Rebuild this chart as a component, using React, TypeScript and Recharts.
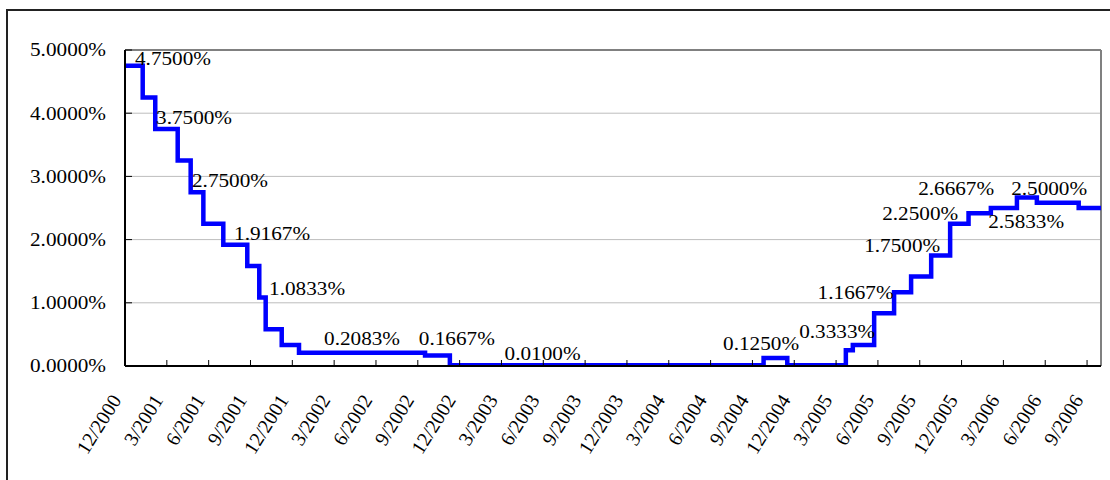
import React from 'react';
import { ComposedChart, Line, Scatter, XAxis, YAxis, CartesianGrid, ReferenceLine } from 'recharts';

// Rate level changes (position in months since 12/2000, rate in %)
const stepMonths = [0, 1.27, 2.17, 3.78, 4.71, 5.62, 7.05, 8.77, 9.63, 10.09, 11.24, 12.48, 21.52, 23.3, 45.8, 47.5, 51.7, 52.2, 53.73, 55.16, 56.38, 57.82, 59.18, 60.5, 62.1, 63.97, 65.4, 68.4, 70];
const stepRates = [4.75, 4.25, 3.75, 3.25, 2.75, 2.25, 1.9167, 1.5833, 1.0833, 0.5833, 0.3333, 0.2083, 0.1667, 0.01, 0.125, 0.01, 0.25, 0.3333, 0.8333, 1.1667, 1.4167, 1.75, 2.25, 2.4167, 2.5, 2.6667, 2.5833, 2.5, 2.5];

// X axis ticks (quarterly)
const tickMonths = [0, 3, 6, 9, 12, 15, 18, 21, 24, 27, 30, 33, 36, 39, 42, 45, 48, 51, 54, 57, 60, 63, 66, 69];
const tickLabels = ['12/2000', '3/2001', '6/2001', '9/2001', '12/2001', '3/2002', '6/2002', '9/2002', '12/2002', '3/2003', '6/2003', '9/2003', '12/2003', '3/2004', '6/2004', '9/2004', '12/2004', '3/2005', '6/2005', '9/2005', '12/2005', '3/2006', '6/2006', '9/2006'];
const yTicks = [0, 1, 2, 3, 4, 5];

// Data labels
const labelValues = [4.75, 3.75, 2.75, 1.9167, 1.0833, 0.2083, 0.1667, 0.01, 0.125, 0.3333, 1.1667, 1.75, 2.25, 2.6667, 2.5, 2.5833];
const labelMonths = [3.44, 4.95, 7.53, 10.55, 13.06, 17.0, 23.8, 29.95, 45.62, 51.08, 52.4, 55.74, 57.03, 59.61, 66.28, 64.63];
const labelLevels = [4.87, 3.93, 2.93, 2.09, 1.22, 0.43, 0.43, 0.2, 0.36, 0.54, 1.163, 1.9, 2.405, 2.8, 2.8, 2.29];

const stepData = stepMonths.map((m, i) => ({ m, rate: stepRates[i] }));
const labelData = labelMonths.map((m, i) => ({ m, lv: labelLevels[i], text: `${labelValues[i].toFixed(4)}%` }));

const FONT = "'Liberation Serif', 'Times New Roman', serif";
const SX = 1.117;

const YTick = (props: any) => {
  const { x, y, payload } = props;
  return (
    <g>
      <line x1={x} y1={y} x2={x + 7} y2={y} stroke="#000" strokeWidth={1} />
      <text
        transform={`translate(${x - 19},${y + 6.3}) scale(${SX},1)`}
        textAnchor="end"
        fontFamily={FONT}
        fontSize={19}
        fill="#000"
      >
        {`${Number(payload.value).toFixed(4)}%`}
      </text>
    </g>
  );
};

const XTick = (props: any) => {
  const { x, y, payload } = props;
  const idx = tickMonths.indexOf(payload.value);
  return (
    <g>
      <line x1={x} y1={y} x2={x} y2={y - 6} stroke="#000" strokeWidth={1} />
      <text
        transform={`translate(${x - 3},${y + 34}) rotate(-58)`}
        textAnchor="end"
        fontFamily={FONT}
        fontSize={20}
        fill="#000"
      >
        {tickLabels[idx]}
      </text>
    </g>
  );
};

const LabelShape = (props: any) => {
  const { cx, cy, payload } = props;
  return (
    <text
      transform={`translate(${cx},${cy + 6.3}) scale(${SX},1)`}
      textAnchor="middle"
      fontFamily={FONT}
      fontSize={19}
      fill="#000"
    >
      {payload.text}
    </text>
  );
};

export default function App() {
  return (
    <div style={{ position: 'absolute', left: 0, top: 0, width: 1110, height: 480, overflow: 'hidden', background: '#fff' }}>
      <div style={{ position: 'absolute', left: 6, top: 9, width: 1300, height: 700, border: '2px solid #222', boxSizing: 'border-box' }} />
      <div style={{ position: 'absolute', left: 0, top: 0 }}>
        <ComposedChart width={1110} height={480} margin={{ top: 50, right: 9, bottom: 84, left: 65 }}>
          <CartesianGrid horizontal vertical={false} stroke="#bdbdbd" strokeWidth={1} />
          <XAxis
            dataKey="m"
            type="number"
            domain={[0, 70]}
            ticks={tickMonths}
            interval={0}
            axisLine={{ stroke: '#000', strokeWidth: 2 }}
            tickLine={false}
            tickSize={0}
            tickMargin={0}
            height={30}
            tick={<XTick />}
            allowDataOverflow
          />
          <YAxis
            type="number"
            domain={[0, 5]}
            ticks={yTicks}
            interval={0}
            axisLine={{ stroke: '#000', strokeWidth: 2 }}
            tickLine={false}
            tickSize={0}
            tickMargin={0}
            width={60}
            tick={<YTick />}
            allowDataOverflow
          />
          <ReferenceLine y={5} stroke="#808080" strokeWidth={2} />
          <ReferenceLine x={70} stroke="#808080" strokeWidth={2} />
          <Line
            data={stepData}
            dataKey="rate"
            type="stepAfter"
            stroke="#0000ff"
            strokeWidth={4.5}
            dot={false}
            activeDot={false}
            isAnimationActive={false}
          />
          <Scatter data={labelData} dataKey="lv" shape={<LabelShape />} isAnimationActive={false} />
        </ComposedChart>
      </div>
    </div>
  );
}
